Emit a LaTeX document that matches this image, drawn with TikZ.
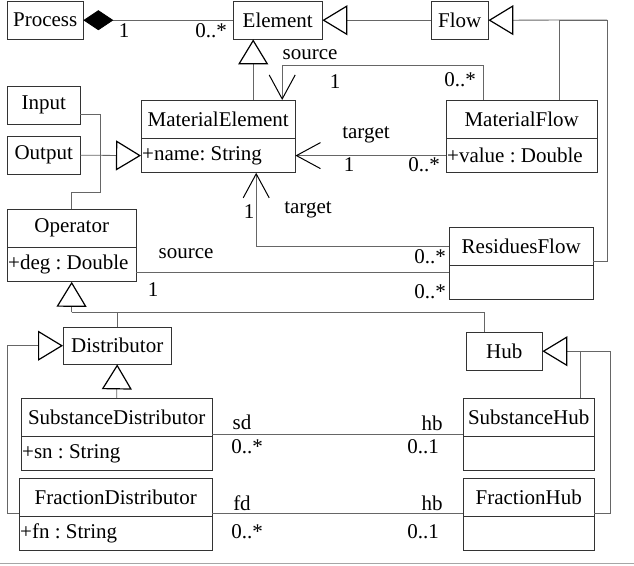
\documentclass[tikz,border=0pt]{standalone}
\usepackage{fontspec}
\setmainfont{Liberation Serif}
\usetikzlibrary{arrows.meta, positioning}

\tikzset{
  cls/.style={draw=black!80, minimum height=38pt, inner sep=0pt, anchor=north west},
  attr/.style={draw=black!80, minimum height=34pt, inner sep=1pt, align=flush left},
  link/.style={draw=black!60, line width=0.8pt},
  gen/.style={link, -{Triangle[open, length=25pt, width=30pt, line width=1.2pt, color=black]}},
  nav/.style={link, -{Straight Barb[length=24pt, width=26pt, line width=1pt, color=black]}},
  comp/.style={link, {Diamond[length=30pt, width=20pt, color=black, fill=black]}-},
  lbl/.style={inner sep=0pt},
}

\begin{document}
\begin{tikzpicture}[x=1pt, y=-1pt, font=\fontsize{21}{25}\selectfont\frenchspacing]
    \useasboundingbox (0,0) rectangle (634,565);

    % classes
    \node[cls, minimum width=76pt] (process) at (7,1) {Process};
    \node[cls, minimum width=89pt] (element) at (233,1) {Element};
    \node[cls, minimum width=57pt] (flow) at (431,1) {Flow};
    \node[cls, minimum width=73pt] (input) at (7,86) {Input};
    \node[cls, minimum width=73pt] (output) at (7,136) {Output};

    \node[cls, minimum width=154pt] (matel) at (141,100) {MaterialElement};
    \node[attr, text width=152pt, below=0pt of matel] (matelattr) {+name: String};
    \node[cls, minimum width=151pt] (matflow) at (446,100) {MaterialFlow};
    \node[attr, text width=149pt, below=0pt of matflow] (matflowattr) {+value : Double};

    \node[cls, minimum width=129pt] (oper) at (7,209) {Operator};
    \node[attr, text width=127pt, below=0pt of oper] (operattr) {+deg : Double};
    \node[cls, minimum width=144pt] (resflow) at (449,227) {ResiduesFlow};
    \node[attr, text width=142pt, below=0pt of resflow] (resflowattr) {};

    \node[cls, minimum width=108pt, minimum height=37pt] (distr) at (63,327) {Distributor};
    \node[cls, minimum width=76pt] (hub) at (466,332) {Hub};

    \node[cls, minimum width=191pt] (subdistr) at (21,398) {SubstanceDistributor};
    \node[attr, text width=189pt, below=0pt of subdistr] (subdistrattr) {+sn : String};
    \node[cls, minimum width=193pt] (fracdistr) at (19,478) {FractionDistributor};
    \node[attr, text width=191pt, below=0pt of fracdistr] (fracdistrattr) {+fn : String};
    \node[cls, minimum width=131pt] (subhub) at (463,398) {SubstanceHub};
    \node[attr, text width=129pt, below=0pt of subhub] (subhubattr) {};
    \node[cls, minimum width=131pt] (frachub) at (463,478) {FractionHub};
    \node[attr, text width=129pt, below=0pt of frachub] (frachubattr) {};

    % process - element
    \draw[comp] (process.east) -- (element.west);
    \node[lbl] (procone) at (124,31) {1};
    \node[lbl] (procmany) at (211,31) {0..*};

    % generalisations
    \draw[gen] (flow.west) -- (element.east);
    \draw[gen] ([xshift=35pt]matel.north) -- ([xshift=35pt]matel.north |- element.south);

    \coordinate (flowbus) at (607,20);
    \draw[gen] (flowbus) -- (flow.east);
    \draw[link] ([xshift=38pt]matflow.north) |- (flowbus);
    \draw[link] ([yshift=4pt]resflow.south east) -| (flowbus);

    \coordinate (inbus) at (100,155);
    \draw[gen] (output.east) -- (matelattr.west);
    \draw[link] ([yshift=-9pt]input.east) -| (inbus);
    \draw[link] (oper.north) -- ++(0,-17) -| (inbus);

    \coordinate (operbus) at (71.5,312);
    \draw[gen] (operbus) -- (operattr.south);
    \draw[link] (distr.north) |- (operbus);
    \draw[link] ([xshift=-20pt]hub.north) |- (operbus);

    \draw[gen] (subdistr.north) -- (distr.south);
    \draw[gen] ([yshift=3pt]fracdistr.south west) -- ++(-12,0) |- (distr.west);

    \draw[gen] ([yshift=3pt]frachub.south east) -- ++(16,0) |- (hub.east);
    \draw[link] ([xshift=52pt]subhub.north) -- ([xshift=52pt]subhub.north |- hub.east);

    % source / target
    \draw[nav] ([xshift=-38pt]matflow.north) -- ++(0,-35) -| ([xshift=64pt]matel.north);
    \node[lbl] (srcname) at (310,55) {source};
    \node[lbl] (srcone) at (335,82) {1};
    \node[lbl] (srcmany) at (460,80) {0..*};

    \draw[nav] (matflowattr.west) -- (matelattr.east);
    \node[lbl] (tgtname) at (366,135) {target};
    \node[lbl] (tgtone) at (349,165) {1};
    \node[lbl] (tgtmany) at (424,165) {0..*};

    \draw[nav] (resflow.west) -| ([xshift=38pt]matelattr.south);
    \node[lbl] (restgtone) at (249,212) {1};
    \node[lbl] (restgtname) at (308,210) {target};
    \node[lbl] (restgtmany) at (430,257) {0..*};

    \draw[link] ([yshift=-8pt]operattr.east) -- ([yshift=-8pt]operattr.east -| resflowattr.west);
    \node[lbl] (ressrcname) at (186,254) {source};
    \node[lbl] (ressrcone) at (153,290) {1};
    \node[lbl] (ressrcmany) at (430,292) {0..*};

    % distributor - hub
    \draw[link] ([yshift=2pt]subdistr.south east) -- ([yshift=2pt]subhub.south west);
    \node[lbl] (sdname) at (242,422) {sd};
    \node[lbl] (sdmany) at (247,447) {0..*};
    \node[lbl] (sdhb) at (432,423) {hb};
    \node[lbl] (sdone) at (423,447) {0..1};

    \draw[link] ([yshift=3pt]fracdistr.south east) -- ([yshift=3pt]frachub.south west);
    \node[lbl] (fdname) at (242,503) {fd};
    \node[lbl] (fdmany) at (247,532) {0..*};
    \node[lbl] (fdhb) at (432,503) {hb};
    \node[lbl] (fdone) at (423,532) {0..1};

    \draw[black!35, line width=1pt] (0,563) -- (634,563);
\end{tikzpicture}
\end{document}
